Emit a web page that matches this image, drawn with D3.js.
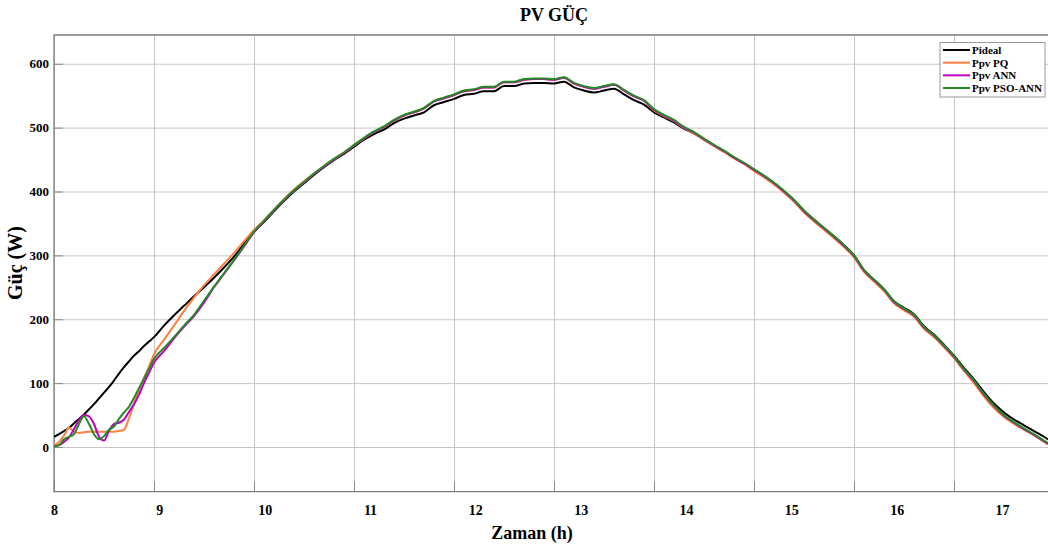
<!DOCTYPE html>
<html><head><meta charset="utf-8">
<script src="https://cdn.jsdelivr.net/npm/d3@7"></script>
<style>
body{margin:0;background:#fff}
svg{display:block}
text{font-family:"Liberation Serif","Times New Roman",serif;font-weight:bold;fill:#000}
</style>
</head><body>
<svg id="c" width="1048" height="546"></svg>
<script>
// ---------- data ----------
const hours = [
 8.00,8.05,8.10,8.15,8.20,8.25,8.30,8.35,8.40,8.45,8.50,8.55,8.60,8.65,8.70,8.75,8.80,8.85,8.90,8.95,9.00,
 9.1,9.2,9.3,9.4,9.5,9.6,9.7,9.8,9.9,10.0,
 10.1,10.2,10.3,10.4,10.5,10.6,10.7,10.8,10.9,
 11.0,11.1,11.2,11.3,11.4,11.5,11.6,11.7,11.8,11.9,
 12.0,12.1,12.2,12.3,12.4,12.5,12.6,12.7,12.8,12.9,
 13.0,13.1,13.2,13.3,13.4,13.5,13.6,13.7,13.8,13.9,
 14.0,14.1,14.2,14.3,14.4,14.5,14.6,14.7,14.8,14.9,
 15.0,15.1,15.2,15.3,15.4,15.5,15.6,15.7,15.8,15.9,
 16.0,16.1,16.2,16.3,16.4,16.5,16.6,16.7,16.8,16.9,
 17.0,17.1,17.2,17.3,17.4,17.5,17.6,17.7,17.8,17.9,
 17.94
];
const pideal = [
 16,20,25,30,37,44,51,59,67,76,85,94,104,115,125,134,143,150,158,165,172,
 190,206,221,236,250,265,281,298,318,337,
 352,369,385,400,413,426,438,449,459,
 470,481,490,497,507,514,519,524,535,540,
 545,551,553,557,557,565,565,569,570,570,
 569,572,563,558,555,558,561,552,543,536,
 524,516,508,498,491,481,472,463,453,444,
 434,424,413,400,386,370,356,343,330,316,
 300,277,262,247,228,218,208,189,176,160,
 143,124,106,86,68,54,43,34,25,16,
 12
];
const ppvPQ = [
 2,8,18,30,24,22,23,24,24,24,24,24,24,25,27,45,68,90,108,126,145,
 168,190,213,234,253,270,287,304,322,340,
 355,372,388,403,416,428,440,451,461,
 472,483,493,501,511,519,524,530,541,546,
 551,557,559,563,563,571,571,575,576,576,
 575,578,569,564,561,564,567,558,549,542,
 527,518,510,499,491,481,471,462,452,443,
 432,422,411,398,384,367,353,340,327,313,
 297,274,259,244,225,214,204,185,172,156,
 139,119,100,79,61,47,36,27,18,8,
 4
];
const ppvANN = [
 1,3,8,15,28,42,50,48,36,16,10,25,36,38,43,55,67,82,100,116,132,
 150,170,188,205,226,250,271,292,314,336,
 353,370,386,401,414,427,439,450,460,
 472,483,493,501,511,519,524,530,541,546,
 551,557,559,563,563,571,571,575,576,576,
 575,578,569,564,561,564,567,558,549,542,
 528,519,511,500,492,482,472,463,453,444,
 434,424,413,400,386,369,355,342,329,315,
 299,276,261,246,227,216,206,187,174,158,
 141,121,103,82,64,49,38,28,19,9,
 5
];
const ppvPSO = [
 1,3,12,16,20,36,48,36,20,12,17,27,32,44,54,63,77,92,107,122,138,
 155,172,190,207,229,251,272,293,315,337,
 354,371,387,402,415,428,440,451,461,
 473,484,494,502,512,520,525,531,542,547,
 552,558,560,564,564,572,572,576,577,577,
 576,579,570,565,562,565,568,559,550,543,
 529,520,512,501,493,483,473,464,454,445,
 435,425,414,401,387,370,356,343,330,316,
 300,277,262,247,228,217,207,188,175,159,
 142,122,104,83,65,50,39,29,20,10,
 6
];
const seriesNames = ["Pideal","Ppv PQ","Ppv ANN","Ppv PSO-ANN"];
const seriesColors = ["#000000","#ff7f3f","#c000c0","#228b22"];
const xTicks = [8,9,10,11,12,13,14,15,16,17];
const yTicks = [0,100,200,300,400,500,600];

// ---------- layout ----------
const W = 1048, H = 546;
const L = 54, T = 35, R = 1048, B = 491.7;
const x = d3.scaleLinear().domain([8, 17.94]).range([L, R]);
const xLab = d3.scaleLinear().domain([8, 17]).range([54, 1002]);
const y = d3.scaleLinear().domain([-70, 645]).range([B, T]);

const svg = d3.select("#c");
svg.append("rect").attr("width", W).attr("height", H).attr("fill", "#fff");

// grid
const gx = svg.append("g").attr("transform", `translate(0,${B})`)
  .call(d3.axisBottom(x).tickValues(xTicks).tickSize(-(B - T)).tickFormat(""));
gx.select(".domain").remove();
gx.selectAll("line").attr("stroke", "#c6c6c6").attr("stroke-width", 1);

const gy = svg.append("g").attr("transform", `translate(${L},0)`)
  .call(d3.axisLeft(y).tickValues(yTicks).tickSize(-(R - L)).tickFormat(""));
gy.select(".domain").remove();
gy.selectAll("line").attr("stroke", "#c6c6c6").attr("stroke-width", 1);

// inner tick marks
const tx = svg.append("g").attr("transform", `translate(0,${B})`)
  .call(d3.axisBottom(x).tickValues(xTicks).tickSize(-10).tickFormat(""));
tx.select(".domain").remove();
tx.selectAll("line").attr("stroke", "#8a8a8a");
const ty = svg.append("g").attr("transform", `translate(${L},0)`)
  .call(d3.axisLeft(y).tickValues(yTicks).tickSize(-9).tickFormat(""));
ty.select(".domain").remove();
ty.selectAll("line").attr("stroke", "#8a8a8a");

// axes box
svg.append("path")
  .attr("d", `M${R},${T}H${L}V${B}H${R}`)
  .attr("fill", "none").attr("stroke", "#7c7c7c").attr("stroke-width", 1.3);

// tick labels
const lx = svg.append("g").attr("transform", `translate(0,${B})`)
  .call(d3.axisBottom(xLab).tickValues(xTicks).tickSize(0).tickPadding(13).tickFormat(d3.format("d")));
lx.select(".domain").remove();
lx.selectAll("text").style("font-size", "14px");

const ly = svg.append("g").attr("transform", `translate(${L},0)`)
  .call(d3.axisLeft(y).tickValues(yTicks).tickSize(0).tickPadding(5).tickFormat(d3.format("d")));
ly.select(".domain").remove();
ly.selectAll("text").style("font-size", "13px");

// data lines
svg.append("clipPath").attr("id", "clip").append("rect")
  .attr("x", L).attr("y", T).attr("width", R - L).attr("height", B - T);
const seriesValues = [pideal, ppvPQ, ppvANN, ppvPSO];
const line = d3.line().x((d, i) => x(hours[i])).y(d => y(d)).curve(d3.curveMonotoneX);
const gl = svg.append("g").attr("clip-path", "url(#clip)");
seriesValues.forEach((vals, k) => {
  gl.append("path").datum(vals).attr("d", line)
    .attr("fill", "none").attr("stroke", seriesColors[k])
    .attr("stroke-width", 2).attr("stroke-linejoin", "round");
});

// titles
svg.append("text").attr("x", 554).attr("y", 21).attr("text-anchor", "middle")
  .style("font-size", "18px").text("PV GÜÇ");
svg.append("text").attr("x", 532).attr("y", 539).attr("text-anchor", "middle")
  .style("font-size", "18px").text("Zaman (h)");
svg.append("text").attr("transform", "translate(22,263) rotate(-90)")
  .attr("text-anchor", "middle").style("font-size", "20px").text("Güç (W)");

// legend
const lg = svg.append("g");
lg.append("rect").attr("x", 940).attr("y", 42.5).attr("width", 105).attr("height", 54.5)
  .attr("fill", "#fff").attr("stroke", "#9a9a9a").attr("stroke-width", 1);
const rowY = d3.scalePoint().domain(seriesNames).range([50, 88]);
seriesNames.forEach((n, k) => {
  lg.append("line").attr("x1", 943).attr("x2", 970).attr("y1", rowY(n)).attr("y2", rowY(n))
    .attr("stroke", seriesColors[k]).attr("stroke-width", 2);
  lg.append("text").attr("x", 972).attr("y", rowY(n)).attr("dy", "0.35em")
    .style("font-size", "11px").text(n);
});
</script>
</body></html>
